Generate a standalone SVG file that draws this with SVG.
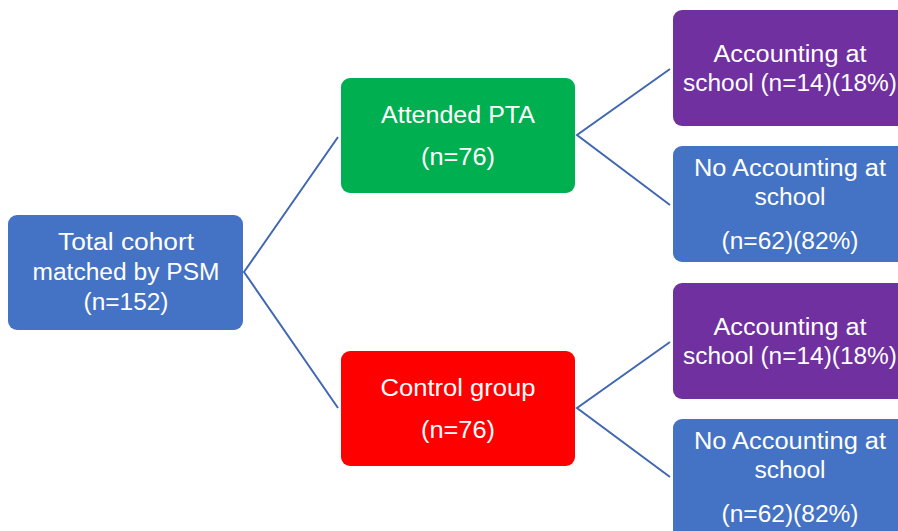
<svg xmlns="http://www.w3.org/2000/svg" width="898" height="531" viewBox="0 0 898 531">
  <style>
    .box { stroke: none; }
    .blue { fill: #4472C4; }
    .green { fill: #00B050; }
    .red { fill: #FF0000; }
    .purple { fill: #7030A0; }
    text { font-family: "Liberation Sans", "Noto Sans", sans-serif; font-size: 23px; fill: #FFFFFF; text-anchor: middle; }
    .link { stroke: #4068B2; stroke-width: 2; fill: none; }
  </style>
  <rect width="898" height="531" fill="#FFFFFF"/>

  <!-- connectors -->
  <g id="connectors">
    <path class="link" d="M338,137 L244,272 L338,408"/>
    <path class="link" d="M670,69 L577,135 L670,205"/>
    <path class="link" d="M670,342 L577,408 L670,477"/>
  </g>

  <g id="node-total">
    <rect class="box blue" x="8" y="215" width="235" height="115" rx="9"/>
    <text x="126" y="250" textLength="136" lengthAdjust="spacingAndGlyphs">Total cohort</text>
    <text x="126" y="280" textLength="187" lengthAdjust="spacingAndGlyphs">matched by PSM</text>
    <text x="126" y="310" textLength="85" lengthAdjust="spacingAndGlyphs">(n=152)</text>
  </g>

  <g id="node-attended">
    <rect class="box green" x="341" y="78" width="234" height="115" rx="9"/>
    <text x="458" y="123" textLength="154" lengthAdjust="spacingAndGlyphs">Attended PTA</text>
    <text x="458" y="165" textLength="74" lengthAdjust="spacingAndGlyphs">(n=76)</text>
  </g>

  <g id="node-control">
    <rect class="box red" x="341" y="351" width="234" height="115" rx="9"/>
    <text x="458" y="396" textLength="155" lengthAdjust="spacingAndGlyphs">Control group</text>
    <text x="458" y="438" textLength="74" lengthAdjust="spacingAndGlyphs">(n=76)</text>
  </g>

  <g id="node-pta-acc">
    <rect class="box purple" x="673" y="10" width="240" height="116" rx="9"/>
    <text x="790" y="62" textLength="153" lengthAdjust="spacingAndGlyphs">Accounting at</text>
    <text x="790" y="91" textLength="214" lengthAdjust="spacingAndGlyphs">school (n=14)(18%)</text>
  </g>

  <g id="node-pta-noacc">
    <rect class="box blue" x="673" y="146" width="240" height="116" rx="9"/>
    <text x="790" y="176" textLength="192" lengthAdjust="spacingAndGlyphs">No Accounting at</text>
    <text x="790" y="205" textLength="71" lengthAdjust="spacingAndGlyphs">school</text>
    <text x="790" y="249" textLength="137" lengthAdjust="spacingAndGlyphs">(n=62)(82%)</text>
  </g>

  <g id="node-ctl-acc">
    <rect class="box purple" x="673" y="283" width="240" height="116" rx="9"/>
    <text x="790" y="335" textLength="153" lengthAdjust="spacingAndGlyphs">Accounting at</text>
    <text x="790" y="364" textLength="214" lengthAdjust="spacingAndGlyphs">school (n=14)(18%)</text>
  </g>

  <g id="node-ctl-noacc">
    <rect class="box blue" x="673" y="419" width="240" height="130" rx="9"/>
    <text x="790" y="449" textLength="192" lengthAdjust="spacingAndGlyphs">No Accounting at</text>
    <text x="790" y="478" textLength="71" lengthAdjust="spacingAndGlyphs">school</text>
    <text x="790" y="522" textLength="137" lengthAdjust="spacingAndGlyphs">(n=62)(82%)</text>
  </g>
</svg>
